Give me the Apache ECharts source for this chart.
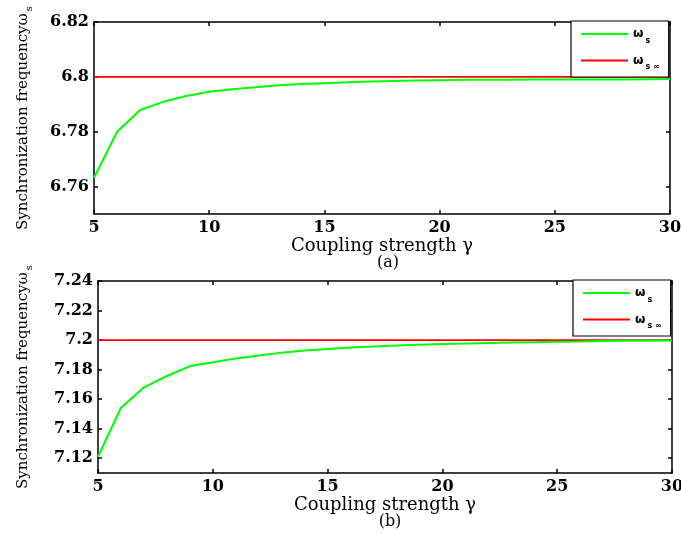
<!DOCTYPE html>
<html><head><meta charset="utf-8">
<script src="https://cdn.jsdelivr.net/npm/echarts@6/dist/echarts.min.js"></script>
<style>html,body{margin:0;padding:0;background:#fff}#c{width:681px;height:534px}</style>
</head><body><div id="c"></div>
<script>
// ---- data ----
const gamma = [5,6,7,8,9,10,11,12,13,14,15,16,17,18,19,20,21,22,23,24,25,26,27,28,29,30];
const wsA = [6.7632,6.7800,6.7879,6.7909,6.7930,6.7946,6.7955,6.7962,6.7969,6.7974,6.7977,6.7980,6.7983,6.7985,6.7987,6.7988,6.7989,6.7989,6.7989,6.7990,6.7990,6.7990,6.7990,6.7990,6.7991,6.7992];
const wsInfA = 6.8;
const wsB = [7.1210,7.1542,7.1680,7.1757,7.1824,7.1850,7.1875,7.1895,7.1915,7.1930,7.1940,7.1950,7.1957,7.1963,7.1968,7.1973,7.1976,7.1980,7.1984,7.1986,7.1988,7.1990,7.1994,7.1995,7.1996,7.1997];
const wsInfB = 7.2;
const yTicksA = [6.76,6.78,6.80,6.82];
const yTicksB = [7.12,7.14,7.16,7.18,7.20,7.22,7.24];
const xTicks = [5,10,15,20,25,30];
const seriesNames = ['ws','wsinf'];

const pairs = (xs, ys) => xs.map((x,i)=>[x, ys[i]]);
const flat = (xs, v) => [[xs[0], v], [xs[xs.length-1], v]];
const fmt = v => String(parseFloat(Number(v).toFixed(2)));

const tickFont = {fontFamily:'DejaVu Serif', fontWeight:'bold', fontSize:16, color:'#000'};
const axisLine = {show:true, lineStyle:{color:'#000', width:1.5}};
const tickStyle = {color:'#000', width:1.5};

function xAxes(gi){
  return [{
    type:'value', gridIndex:gi, min:5, max:30, interval:5,
    axisLine, axisTick:{show:true, inside:true, length:4, customValues:xTicks, lineStyle:tickStyle},
    axisLabel:{...tickFont, margin:6, customValues:xTicks, formatter: fmt},
    splitLine:{show:false},
    name:'Coupling strength γ', nameLocation:'middle', nameGap:20,
    nameTextStyle:{fontFamily:'DejaVu Serif', fontSize:18, color:'#000'}
  },{
    type:'value', gridIndex:gi, position:'top', min:5, max:30, interval:5,
    axisLine, axisTick:{show:true, inside:true, length:4, customValues:xTicks, lineStyle:tickStyle},
    axisLabel:{show:false}, splitLine:{show:false}
  }];
}
function yAxes(gi, min, max, ticks){
  return [{
    type:'value', gridIndex:gi, min, max,
    axisLine, axisTick:{show:true, inside:true, length:4, customValues:ticks, lineStyle:tickStyle},
    axisLabel:{...tickFont, margin:5, customValues:ticks, formatter: fmt},
    splitLine:{show:false},
    name:'Synchronization frequency{w|ω}{s|s}', nameLocation:'middle', nameRotate:90, nameGap:gi?64:60,
    nameTextStyle:{fontFamily:'DejaVu Serif', fontSize:15, color:'#000',
      rich:{w:{fontFamily:'DejaVu Serif', fontSize:15, color:'#000'},
            s:{fontFamily:'DejaVu Serif', fontSize:10, color:'#000', padding:[12,0,0,2]}}}
  },{
    type:'value', gridIndex:gi, position:'right', min, max,
    axisLine, axisTick:{show:true, inside:true, length:4, customValues:ticks, lineStyle:tickStyle},
    axisLabel:{show:false}, splitLine:{show:false}
  }];
}
function legend(gi, left, top){
  return {
    data: seriesNames.map(n => ({name: n + (gi?'_b':'_a'), icon:'rect'})),
    orient:'vertical', left, top, itemWidth:47, itemHeight:2, itemGap:10,
    borderColor:'#000', borderWidth:1.2, padding:[7,9,6,10], backgroundColor:'#fff',
    formatter: n => n.startsWith('wsinf') ? '{w|ω}{s|s ∞}' : '{w|ω}{s|s}',
    textStyle:{rich:{
      w:{fontFamily:'DejaVu Sans', fontWeight:'bold', fontSize:12, color:'#000'},
      s:{fontFamily:'DejaVu Sans', fontWeight:'bold', fontSize:8, color:'#000', padding:[13,0,0,2]}
    }},
    selectedMode:false
  };
}
const greenStyle = {color:'#00ff00', width:2};
const redStyle = {color:'#ff0000', width:1.6};

const option = {
  animation:false,
  grid:[
    {left:94, right:11, top:22, height:192, show:false, outerBoundsMode:'none', containLabel:false},
    {left:98, right:9, top:281, height:192, show:false, outerBoundsMode:'none', containLabel:false}
  ],
  xAxis:[...xAxes(0), ...xAxes(1)],
  yAxis:[...yAxes(0, 6.75, 6.82, yTicksA), ...yAxes(1, 7.11, 7.24, yTicksB)],
  legend:[legend(0, 571, 21), legend(1, 573, 280)],
  title:[
    {text:'(a)', left:383, top:250, textAlign:'center', textStyle:{fontFamily:'DejaVu Serif', fontWeight:'normal', fontSize:16, color:'#000'}},
    {text:'(b)', left:385, top:509, textAlign:'center', textStyle:{fontFamily:'DejaVu Serif', fontWeight:'normal', fontSize:16, color:'#000'}}
  ],
  series:[
    {name:'ws_a', type:'line', xAxisIndex:0, yAxisIndex:0, data:pairs(gamma, wsA), symbol:'none', lineStyle:greenStyle, itemStyle:{color:'#00ff00'}, z:3},
    {name:'wsinf_a', type:'line', xAxisIndex:0, yAxisIndex:0, data:flat(gamma, wsInfA), symbol:'none', lineStyle:redStyle, itemStyle:{color:'#ff0000'}, z:2},
    {name:'ws_b', type:'line', xAxisIndex:2, yAxisIndex:2, data:pairs(gamma, wsB), symbol:'none', lineStyle:greenStyle, itemStyle:{color:'#00ff00'}, z:3},
    {name:'wsinf_b', type:'line', xAxisIndex:2, yAxisIndex:2, data:flat(gamma, wsInfB), symbol:'none', lineStyle:redStyle, itemStyle:{color:'#ff0000'}, z:2}
  ]
};
echarts.init(document.getElementById('c'), null, {renderer:'canvas'}).setOption(option);
</script>
</body></html>
